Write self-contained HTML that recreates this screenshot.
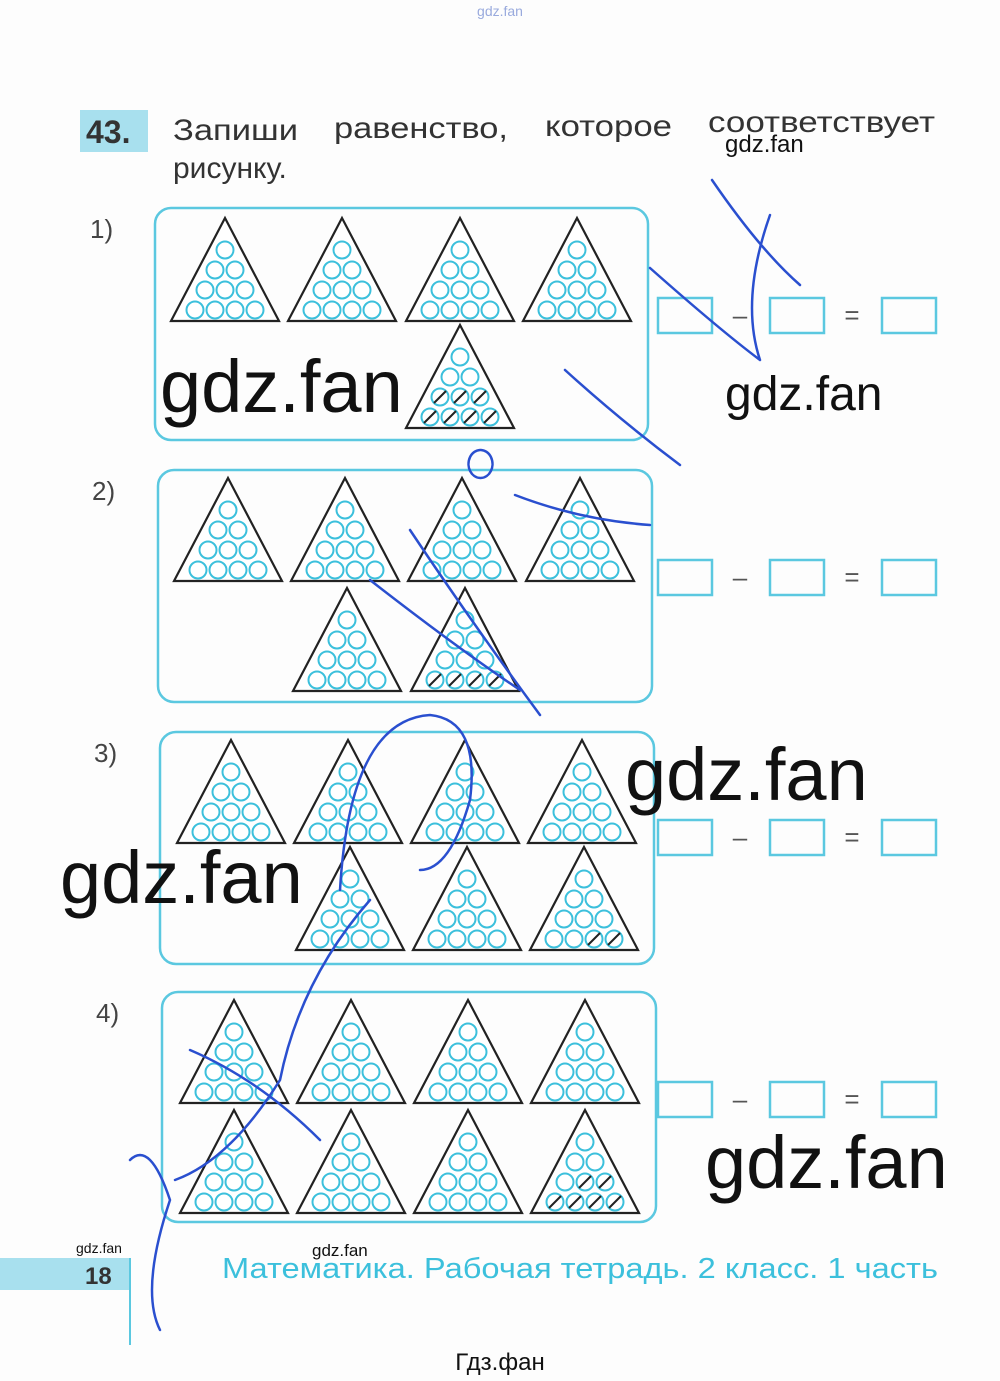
<!DOCTYPE html>
<html><head><meta charset="utf-8"><style>
body{margin:0;background:#fff}
svg{display:block}
</style></head><body>
<svg id="s" width="1000" height="1381" xmlns="http://www.w3.org/2000/svg" font-family="Liberation Sans, DejaVu Sans, sans-serif">
<rect width="1000" height="1381" fill="#fdfdfd"/>
<text x="500" y="16" font-size="14" fill="#9ad" text-anchor="middle">gdz.fan</text>
<rect x="80" y="110" width="68" height="42" fill="#a8e0ee"/>
<text x="86" y="143" font-size="32" font-weight="bold" fill="#333">43.</text>
<text x="173" y="140" font-size="30" fill="#333" textLength="125" lengthAdjust="spacingAndGlyphs">Запиши</text>
<text x="334" y="138" font-size="30" fill="#333" textLength="174" lengthAdjust="spacingAndGlyphs">равенство,</text>
<text x="545" y="136" font-size="30" fill="#333" textLength="127" lengthAdjust="spacingAndGlyphs">которое</text>
<text x="708" y="132" font-size="30" fill="#333" textLength="227" lengthAdjust="spacingAndGlyphs">соответствует</text>
<text x="173" y="178" font-size="30" fill="#333">рисунку.</text>
<text x="725" y="152" font-size="24" fill="#111">gdz.fan</text>
<text x="90" y="238" font-size="26" fill="#444">1)</text>
<text x="92" y="500" font-size="26" fill="#444">2)</text>
<text x="94" y="762" font-size="26" fill="#444">3)</text>
<text x="96" y="1022" font-size="26" fill="#444">4)</text>
<g id="g"></g>
<text x="160" y="412" font-size="74" fill="#111">gdz.fan</text>
<text x="725" y="410" font-size="48" fill="#111">gdz.fan</text>
<text x="625" y="800" font-size="74" fill="#111">gdz.fan</text>
<text x="60" y="903" font-size="74" fill="#111">gdz.fan</text>
<text x="705" y="1188" font-size="74" fill="#111">gdz.fan</text>
<rect x="0" y="1258" width="130" height="32" fill="#a8e0ee"/>
<line x1="130" y1="1258" x2="130" y2="1345" stroke="#5bc8e0" stroke-width="2"/>
<text x="85" y="1284" font-size="24" font-weight="bold" fill="#333">18</text>
<text x="76" y="1253" font-size="14" fill="#111">gdz.fan</text>
<text x="312" y="1256" font-size="17" fill="#111">gdz.fan</text>
<text x="222" y="1278" font-size="29" fill="#3cc0dc" textLength="716" lengthAdjust="spacingAndGlyphs">Математика. Рабочая тетрадь. 2 класс. 1 часть</text>
<text x="500" y="1370" font-size="24" fill="#111" text-anchor="middle">Гдз.фан</text>
<g fill="none" stroke="#2a4fcf" stroke-width="2.5" stroke-linecap="round">
<path d="M712 180 Q760 250 800 285 M650 268 Q720 330 760 360 M770 215 Q740 300 760 360 M565 370 Q620 420 680 465"/>
<path d="M480 450 a12 14 0 1 0 1 0"/>
<path d="M515 495 Q580 520 650 525 M410 530 Q470 620 540 715 M370 580 Q460 650 520 690"/>
<path d="M340 890 Q350 720 430 715 Q480 720 470 800 Q450 870 420 870 M370 900 Q300 980 280 1080 Q230 1160 175 1180 M190 1050 Q260 1080 320 1140 M130 1160 Q150 1140 170 1200 Q140 1290 160 1330"/>
</g>
</svg>
<script>
var g=document.getElementById('g'),h='';
function box(x,y,w,hh){h+='<rect x="'+x+'" y="'+y+'" width="'+w+'" height="'+hh+'" rx="16" fill="none" stroke="#5bc8e0" stroke-width="2.5"/>';}
function tri(cx,t,cross){
 h+='<path d="M'+cx+' '+t+' L'+(cx+54)+' '+(t+103)+' L'+(cx-54)+' '+(t+103)+' Z" fill="#fff" stroke="#222" stroke-width="2.2"/>';
 var k=0,total=10;
 for(var i=0;i<4;i++)for(var j=0;j<=i;j++){
  var x=cx+(j-i/2)*20,y=t+32+i*20;
  h+='<circle cx="'+x+'" cy="'+y+'" r="8.5" fill="none" stroke="#3cc0dc" stroke-width="2"/>';
  var idx=k++;
  if(idx>=total-cross){h+='<line x1="'+(x-6)+'" y1="'+(y+6)+'" x2="'+(x+6)+'" y2="'+(y-6)+'" stroke="#222" stroke-width="2"/>';}
 }
}
function eq(y){
 h+='<rect x="658" y="'+y+'" width="54" height="35" fill="none" stroke="#5bc8e0" stroke-width="2.5"/>';
 h+='<text x="740" y="'+(y+26)+'" font-size="26" fill="#555" text-anchor="middle">–</text>';
 h+='<rect x="770" y="'+y+'" width="54" height="35" fill="none" stroke="#5bc8e0" stroke-width="2.5"/>';
 h+='<text x="852" y="'+(y+26)+'" font-size="26" fill="#555" text-anchor="middle">=</text>';
 h+='<rect x="882" y="'+y+'" width="54" height="35" fill="none" stroke="#5bc8e0" stroke-width="2.5"/>';
}
box(155,208,493,232);
[225,342,460,577].forEach(function(c){tri(c,218,0)});tri(460,325,7);eq(298);
box(158,470,494,232);
[228,345,462,580].forEach(function(c){tri(c,478,0)});tri(347,588,0);tri(465,588,4);eq(560);
box(160,732,494,232);
[231,348,465,582].forEach(function(c){tri(c,740,0)});tri(350,847,0);tri(467,847,0);tri(584,847,2);eq(820);
box(162,992,494,230);
[234,351,468,585].forEach(function(c){tri(c,1000,0)});[234,351,468].forEach(function(c){tri(c,1110,0)});tri(585,1110,6);eq(1082);
g.innerHTML=h;
</script>
</body></html>
